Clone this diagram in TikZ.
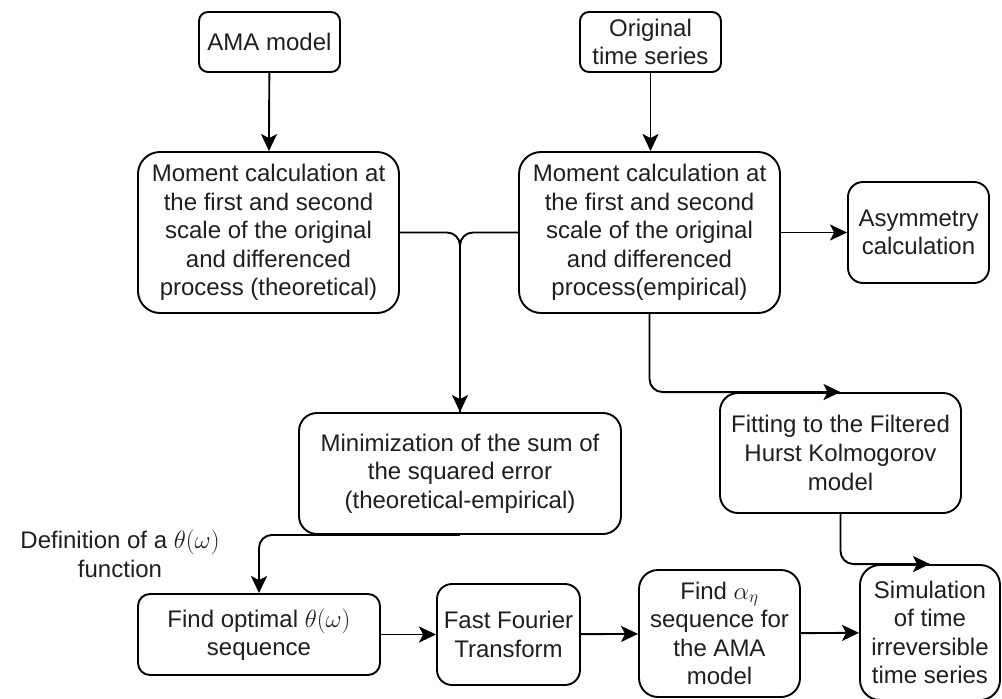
\documentclass[tikz,border=0pt]{standalone}
\usepackage{fontspec}
\setmainfont{Liberation Sans}
\usetikzlibrary{arrows.meta}
\begin{document}
\begin{tikzpicture}[x=1pt,y=-1pt,
  every node/.style={font=\fontsize{24}{28.6}\selectfont, text=black!88},
  box/.style={draw, line width=1.9pt, align=center, inner sep=0pt},
  conn/.style={line width=1.9pt, rounded corners=13pt},
  arr/.style={conn, -{Stealth[length=17pt,width=16pt,inset=4pt]}}]
\useasboundingbox[fill=white] (0,0) rectangle (1002,699);

\node[box, rounded corners=9pt, minimum width=141pt, minimum height=60pt] (ama) at (269.5,42) {AMA model};
\node[box, rounded corners=9pt, minimum width=141pt, minimum height=60pt] (orig) at (650.5,42) {Original\\time series};
\node[box, rounded corners=22pt, minimum width=261pt, minimum height=161pt] (theo) at (268.5,232.5)
  {Moment calculation at\\the first and second\\scale of the original\\and differenced\\process (theoretical)};
\node[box, rounded corners=22pt, minimum width=261pt, minimum height=161pt] (emp) at (649.5,232.5)
  {Moment calculation at\\the first and second\\scale of the original\\and differenced\\process(empirical)};
\node[box, rounded corners=15pt, minimum width=141pt, minimum height=101pt] (asym) at (918.5,232.5)
  {Asymmetry\\calculation};
\node[box, rounded corners=18pt, minimum width=322pt, minimum height=121pt] (min) at (460,473.5)
  {Minimization of the sum of\\the squared error\\(theoretical-empirical)};
\node[box, rounded corners=18pt, minimum width=241pt, minimum height=120pt] (fit) at (840.5,453)
  {Fitting to the Filtered\\Hurst Kolmogorov\\model};
\node[box, rounded corners=12pt, minimum width=242pt, minimum height=81pt] (fo) at (259,634.5)
  {Find optimal $\theta(\omega)$\\sequence};
\node[box, rounded corners=15pt, minimum width=143pt, minimum height=101pt] (fft) at (508.5,634.5)
  {Fast Fourier\\Transform};
\node[box, rounded corners=19pt, minimum width=161pt, minimum height=127pt] (fa) at (719.5,633.5)
  {Find $\alpha_\eta$\\sequence for\\the AMA\\model};
\node[box, rounded corners=20pt, minimum width=140pt, minimum height=135pt] (sim) at (930,632.5)
  {Simulation\\of time\\irreversible\\time series};
\node[align=center] (deflabel) at (120,554) {Definition of a $\theta(\omega)$\\function};

\draw[arr] (ama) -- (theo);
\draw[arr] (orig.south) -- (orig.south |- emp.north);
\draw[conn] (theo.east) -| (min.north);
\draw[arr] (emp.west) -| (min.north);
\draw[arr] (emp) -- (asym);
\draw[arr] (emp.south) |- (fit.north);
\draw[arr] (fit.south) |- (sim.north);
\draw[arr] (min.south) -| (fo.north);
\draw[arr] (fo) -- (fft);
\draw[arr] (fft) -- (fa);
\draw[arr] (fa) -- (sim);
\end{tikzpicture}
\end{document}
